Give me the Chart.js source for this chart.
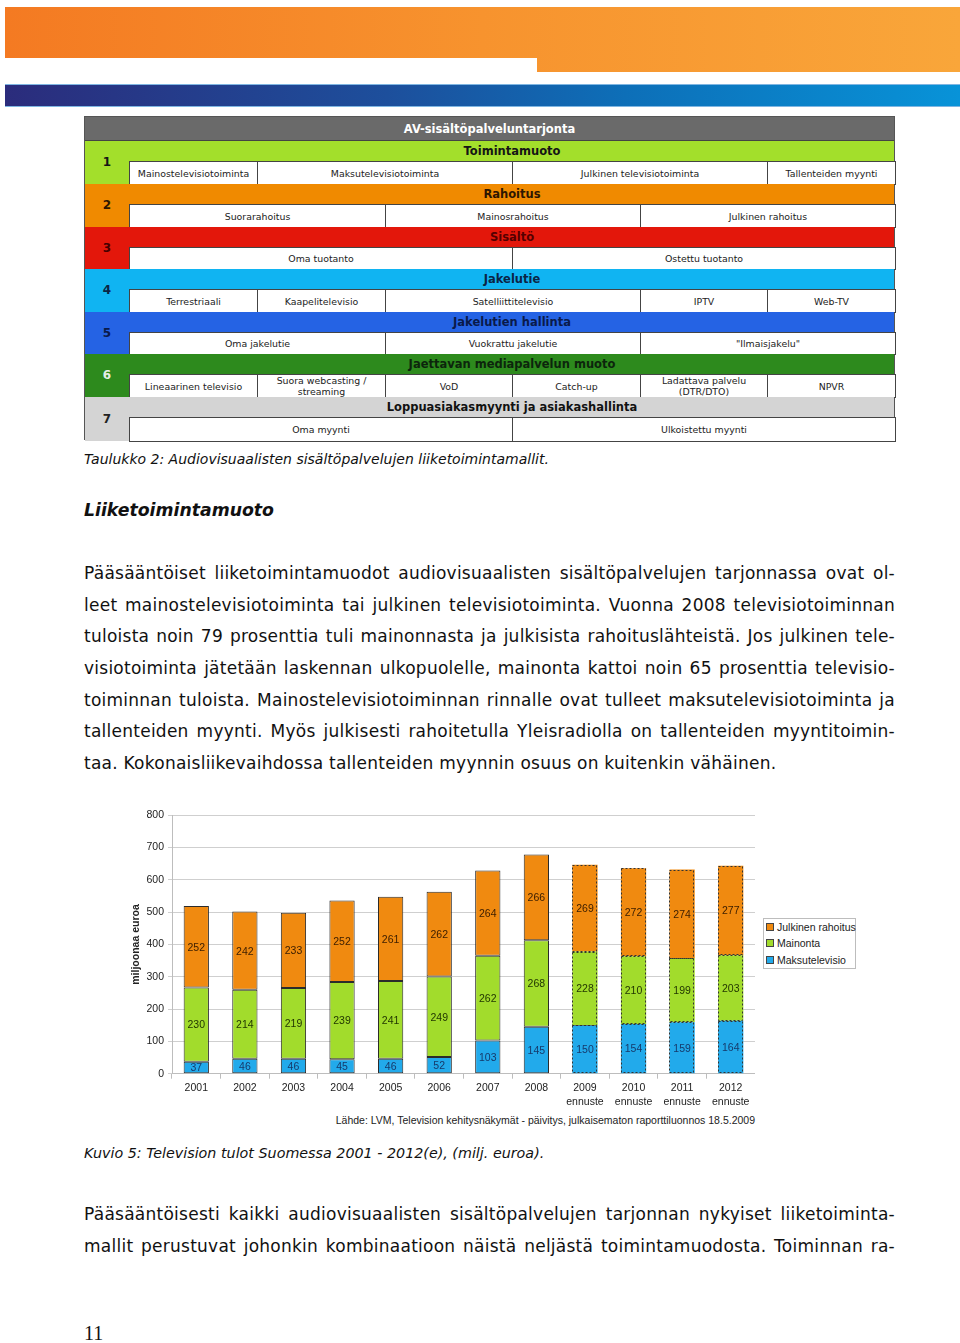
<!DOCTYPE html>
<html lang="fi">
<head>
<meta charset="utf-8">
<script src="https://cdn.jsdelivr.net/npm/chart.js@4.4.1/dist/chart.umd.min.js"></script>
<style>
  html, body { margin: 0; padding: 0; background: #fff; }
  body { width: 960px; height: 1343px; position: relative; overflow: hidden; font-family: "DejaVu Sans", Verdana, sans-serif; color: #111; }
  .abs { position: absolute; }
  #oranssi { left: 5px; top: 7px; width: 955px; height: 65px;
    background: linear-gradient(to right, #f47a22, #f7932e 50%, #f9a63a);
    clip-path: polygon(0 0, 100% 0, 100% 100%, 532px 100%, 532px 51px, 0 51px); }
  #sininen { left: 5px; top: 84px; width: 955px; height: 23px;
    background: linear-gradient(to right, #2b2c7c, #1d4f9c 40%, #0d6fb8 65%, #0893d8);
    border-top: 1px solid #7fb6e2; border-bottom: 1px solid #7fb6e2; box-sizing: border-box; }
  #taulukko { left: 84px; top: 116px; width: 811px; height: 324px; border: 1px solid #555; box-sizing: border-box; background: #fff; }
  .osa, .otsikkorivi, .solu, .numero, .otsikko { position: absolute; box-sizing: border-box; }
  .otsikkorivi { background: #6a6a6a; color: #fff; font-weight: bold; font-size: 11.5px; text-align: center; line-height: 24px; border-bottom: 1px solid #444; }
  .otsikko { font-weight: bold; font-size: 11.5px; text-align: center; line-height: 20px; }
  .numero { font-weight: bold; font-size: 12px; text-align: center; }
  .solu { background: #fff; border: 1px solid #444; font-size: 9.4px; color: #222; display: flex; align-items: center; justify-content: center; text-align: center; line-height: 11px; }
  .kuvateksti { font-style: italic; font-size: 14px; line-height: 16px; left: 84px; white-space: nowrap; }
  #otsikko2 { left: 84px; top: 500px; font-size: 17.3px; line-height: 20px; font-weight: bold; font-style: italic; }
  .kappale { left: 84px; width: 811px; font-size: 17px; letter-spacing: 0.25px; }
  .kappale div { height: 31.67px; line-height: 31.67px; text-align: justify; text-align-last: justify; white-space: nowrap; }
  .kappale div.viim { text-align-last: left; }
  #kaavio { left: 126px; top: 805px; width: 629px; height: 309px; }
  #selite { left: 763px; top: 918px; width: 93px; border: 1px solid #bdbdbd; padding: 0 0 0 2px; box-sizing: border-box; font-family: "Liberation Sans", Arial, sans-serif; font-size: 10.5px; color: #222; }
  #selite div { height: 16.3px; line-height: 16.3px; white-space: nowrap; }
  #selite span { display: inline-block; width: 6px; height: 6px; border: 1px solid #444; margin-right: 3px; vertical-align: 0px; }
  #lahde { right: 205px; top: 1114px; font-family: "Liberation Sans", Arial, sans-serif; font-size: 10.5px; color: #222; white-space: nowrap; }
  #sivu { left: 84px; top: 1322px; font-family: "Liberation Serif", serif; font-size: 20px; line-height: 22px; }
</style>
</head>
<body>
<div id="oranssi" class="abs"></div>
<div id="sininen" class="abs"></div>

<div id="taulukko" class="abs"></div>

<div class="abs kuvateksti" style="top:451px">Taulukko 2: Audiovisuaalisten sisältöpalvelujen liiketoimintamallit.</div>
<div id="otsikko2" class="abs">Liiketoimintamuoto</div>

<div class="abs kappale" style="top:558px">
  <div>Pääsääntöiset liiketoimintamuodot audiovisuaalisten sisältöpalvelujen tarjonnassa ovat ol-</div>
  <div>leet mainostelevisiotoiminta tai julkinen televisiotoiminta. Vuonna 2008 televisiotoiminnan</div>
  <div>tuloista noin 79 prosenttia tuli mainonnasta ja julkisista rahoituslähteistä. Jos julkinen tele-</div>
  <div>visiotoiminta jätetään laskennan ulkopuolelle, mainonta kattoi noin 65 prosenttia televisio-</div>
  <div>toiminnan tuloista. Mainostelevisiotoiminnan rinnalle ovat tulleet maksutelevisiotoiminta ja</div>
  <div>tallenteiden myynti. Myös julkisesti rahoitetulla Yleisradiolla on tallenteiden myyntitoimin-</div>
  <div class="viim">taa. Kokonaisliikevaihdossa tallenteiden myynnin osuus on kuitenkin vähäinen.</div>
</div>

<canvas id="kaavio" class="abs" width="629" height="309"></canvas>
<div id="selite" class="abs"></div>
<div id="lahde" class="abs">Lähde: LVM, Television kehitysnäkymät - päivitys, julkaisematon raporttiluonnos 18.5.2009</div>

<div class="abs kuvateksti" style="top:1145px;font-size:14.3px">Kuvio 5: Television tulot Suomessa 2001 - 2012(e), (milj. euroa).</div>

<div class="abs kappale" style="top:1199px">
  <div>Pääsääntöisesti kaikki audiovisuaalisten sisältöpalvelujen tarjonnan nykyiset liiketoiminta-</div>
  <div>mallit perustuvat johonkin kombinaatioon näistä neljästä toimintamuodosta. Toiminnan ra-</div>
</div>

<div id="sivu" class="abs">11</div>

<script>
// Kaavion tiedot
const vuodet = ['2001', '2002', '2003', '2004', '2005', '2006', '2007', '2008', '2009', '2010', '2011', '2012'];
const ennusteVuodet = ['2009', '2010', '2011', '2012'];
const maksutelevisio = [37, 46, 46, 45, 46, 52, 103, 145, 150, 154, 159, 164];
const mainonta = [230, 214, 219, 239, 241, 249, 262, 268, 228, 210, 199, 203];
const julkinenRahoitus = [252, 242, 233, 252, 261, 262, 264, 266, 269, 272, 274, 277];
const sarjaNimet = ['Maksutelevisio', 'Mainonta', 'Julkinen rahoitus'];
const yAskel = 100;
const yMax = 800;

const sarjaVarit = ['#22aaeb', '#a2dc2c', '#f08a10'];
const tekstiVarit = ['#163a6b', '#1f3300', '#3a1d00'];

// Taulukko (liiketoimintamallit)
const osat = [
  { n: '1', bg: '#a3df2b', fg: '#151515', nfg: '#151515', otsikko: 'Toimintamuoto', solut: [['Mainostelevisiotoiminta', 129, 257], ['Maksutelevisiotoiminta', 257, 512], ['Julkinen televisiotoiminta', 512, 767], ['Tallenteiden myynti', 767, 895]] },
  { n: '2', bg: '#f08a00', fg: '#2e1600', nfg: '#2e1600', otsikko: 'Rahoitus', solut: [['Suorarahoitus', 129, 385], ['Mainosrahoitus', 385, 640], ['Julkinen rahoitus', 640, 895]] },
  { n: '3', bg: '#e3170b', fg: '#550000', nfg: '#450000', otsikko: 'Sisältö', solut: [['Oma tuotanto', 129, 512], ['Ostettu tuotanto', 512, 895]] },
  { n: '4', bg: '#10b4f2', fg: '#0b2546', nfg: '#0b2546', otsikko: 'Jakelutie', solut: [['Terrestriaali', 129, 257], ['Kaapelitelevisio', 257, 385], ['Satelliittitelevisio', 385, 640], ['IPTV', 640, 767], ['Web-TV', 767, 895]] },
  { n: '5', bg: '#2563e4', fg: '#0a1a4a', nfg: '#0a1a4a', otsikko: 'Jakelutien hallinta', solut: [['Oma jakelutie', 129, 385], ['Vuokrattu jakelutie', 385, 640], ['"Ilmaisjakelu"', 640, 895]] },
  { n: '6', bg: '#2d8a1d', fg: '#0c250c', nfg: '#e6eee6', otsikko: 'Jaettavan mediapalvelun muoto', solut: [['Lineaarinen televisio', 129, 257], ['Suora webcasting /<br>streaming', 257, 385], ['VoD', 385, 512], ['Catch-up', 512, 640], ['Ladattava palvelu<br>(DTR/DTO)', 640, 767], ['NPVR', 767, 895]] },
  { n: '7', bg: '#d4d4d4', fg: '#111', nfg: '#222', otsikko: 'Loppuasiakasmyynti ja asiakashallinta', solut: [['Oma myynti', 129, 512], ['Ulkoistettu myynti', 512, 895]] },
];
const osaYlat = [140, 183, 226, 268, 311, 353, 396, 440];

const taulukko = document.getElementById('taulukko');
const T0 = 116, X0 = 84;
let html = '<div class="otsikkorivi" style="left:0;top:0;width:809px;height:24px">AV-sisältöpalveluntarjonta</div>';
osat.forEach((o, i) => {
  const y1 = osaYlat[i] - T0, y2 = osaYlat[i + 1] - T0;
  html += `<div class="osa" style="left:0;top:${y1}px;width:809px;height:${y2 - y1}px;background:${o.bg}"></div>`;
  html += `<div class="numero" style="left:0;top:${y1}px;width:44px;height:${y2 - y1}px;line-height:${y2 - y1}px;color:${o.nfg}">${o.n}</div>`;
  html += `<div class="otsikko" style="left:45px;top:${y1}px;width:764px;height:20px;color:${o.fg}">${o.otsikko}</div>`;
  o.solut.forEach((s) => {
    html += `<div class="solu" style="left:${s[1] - X0 - 1}px;top:${y1 + 20}px;width:${s[2] - s[1] + 1}px;height:${y2 - y1 - 19}px">${s[0]}</div>`;
  });
});
taulukko.innerHTML = html;

// Selite
const selite = document.getElementById('selite');
for (let i = sarjaNimet.length - 1; i >= 0; i--) {
  selite.innerHTML += `<div><span style="background:${sarjaVarit[i]}"></span>${sarjaNimet[i]}</div>`;
}

// Arvot palkkien sisään ja ennusteiden pisteviivareunat
const onEnnuste = (i) => ennusteVuodet.includes(vuodet[i]);
const arvoLabelit = {
  id: 'arvoLabelit',
  afterDatasetsDraw(chart) {
    const ctx = chart.ctx;
    ctx.save();
    chart.data.datasets.forEach((ds, d) => {
      chart.getDatasetMeta(d).data.forEach((bar, i) => {
        if (!onEnnuste(i)) return;
        const w = bar.width;
        ctx.strokeStyle = '#333';
        ctx.lineWidth = 1;
        ctx.setLineDash([2, 2]);
        ctx.strokeRect(Math.round(bar.x - w / 2) + 0.5, Math.round(bar.y) + 0.5, Math.round(w) - 1, Math.round(bar.base - bar.y) - 1);
      });
    });
    ctx.setLineDash([]);
    ctx.font = '10.5px "Liberation Sans", Arial, sans-serif';
    ctx.textAlign = 'center';
    ctx.textBaseline = 'middle';
    chart.data.datasets.forEach((ds, d) => {
      ctx.fillStyle = tekstiVarit[d];
      chart.getDatasetMeta(d).data.forEach((bar, i) => {
        ctx.fillText(String(ds.data[i]), bar.x, (bar.y + bar.base) / 2 + 1);
      });
    });
    ctx.restore();
  },
};

const sarjat = [maksutelevisio, mainonta, julkinenRahoitus];
const kaavio = new Chart(document.getElementById('kaavio').getContext('2d'), {
  type: 'bar',
  data: {
    labels: vuodet.map((v) => (ennusteVuodet.includes(v) ? [v, 'ennuste'] : v)),
    datasets: sarjat.map((data, d) => ({
      label: sarjaNimet[d],
      data: data,
      backgroundColor: sarjaVarit[d],
      borderColor: '#2b2b2b',
      borderWidth: (c) => (onEnnuste(c.dataIndex) ? 0 : 1),
      borderSkipped: false,
      barPercentage: 0.52,
      categoryPercentage: 1,
    })),
  },
  options: {
    responsive: false,
    animation: false,
    layout: { padding: { top: 10, right: 0, bottom: 2, left: 0 } },
    plugins: {
      legend: { display: false },
      tooltip: { enabled: false },
    },
    scales: {
      x: {
        stacked: true,
        grid: { display: true, drawOnChartArea: false, drawTicks: true, tickLength: 5, color: '#bdbdbd' },
        border: { color: '#bdbdbd' },
        ticks: {
          color: '#222',
          padding: 3,
          maxRotation: 0,
          autoSkip: false,
          font: { family: '"Liberation Sans", Arial, sans-serif', size: 10.5, lineHeight: 1.3 },
        },
      },
      y: {
        stacked: true,
        min: 0,
        max: yMax,
        afterFit(scale) { scale.width = 46; },
        grid: { color: '#cfcfcf', tickLength: 4 },
        border: { color: '#bdbdbd' },
        ticks: {
          stepSize: yAskel,
          color: '#222',
          padding: 4,
          font: { family: '"Liberation Sans", Arial, sans-serif', size: 10.5 },
        },
        title: {
          display: true,
          text: 'miljoonaa euroa',
          color: '#222',
          padding: { top: 4, bottom: 0 },
          font: { family: '"Liberation Sans", Arial, sans-serif', size: 10.5, weight: 'bold' },
        },
      },
    },
  },
  plugins: [arvoLabelit],
});
</script>
</body>
</html>
